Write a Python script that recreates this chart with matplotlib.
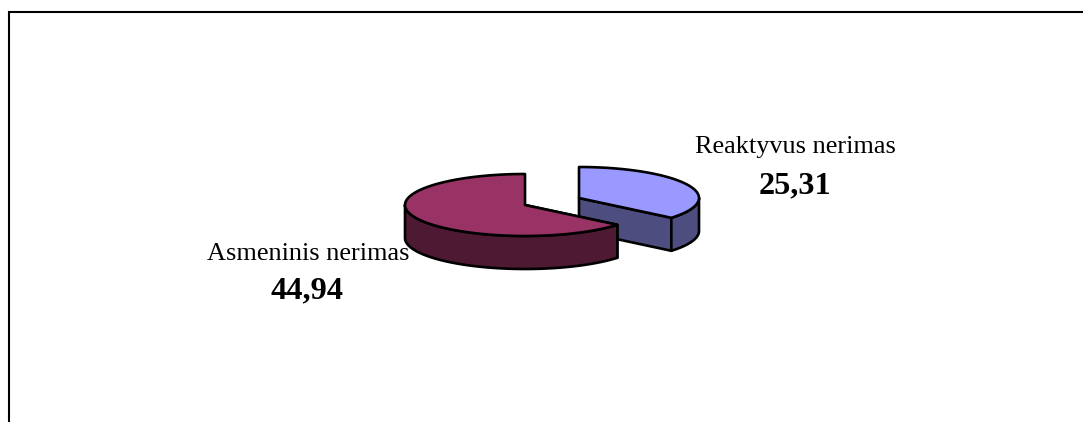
import numpy as np
import matplotlib
matplotlib.use("Agg")
import matplotlib.pyplot as plt
from matplotlib.patches import Polygon

categories = ["Reaktyvus nerimas", "Asmeninis nerimas"]
values = [25.31, 44.94]
value_labels = ["25,31", "44,94"]

top_colors = ["#9999FF", "#993366"]
side_colors = ["#4D4D80", "#4D1933"]

W, H = 1083, 422
RX, RY, DEPTH = 120, 31, 33
centers = [(579, 198), (525, 205)]
LW = 1.9

fig = plt.figure(figsize=(W / 100, H / 100), dpi=100)
ax = fig.add_axes([0, 0, 1, 1])
ax.set_xlim(0, W)
ax.set_ylim(H, 0)
ax.axis("off")

# Slice angles run clockwise from twelve o'clock.
angles = np.cumsum([0] + values) / sum(values) * 2 * np.pi


def rim(cx, cy, a, b, dy=0):
    t = np.linspace(a, b, 300)
    return np.column_stack([cx + RX * np.sin(t), cy - RY * np.cos(t) + dy])


def patch(points, color, z):
    ax.add_patch(Polygon(points, closed=True, facecolor=color, edgecolor="black",
                         linewidth=LW, joinstyle="round", zorder=z))


def visible_sides(a, b):
    # The wall shows only where the rim lies on the front half of the ellipse.
    lo, hi = max(a, np.pi / 2), min(b, 3 * np.pi / 2)
    return (lo, hi) if lo < hi else None


for i, (a, b) in enumerate(zip(angles[:-1], angles[1:])):
    cx, cy = centers[i]
    z = 2 + i * 5

    # Flat cut faces first, then the curved wall, then the top surface.
    for edge in (a, b):
        if np.sin(edge) > 0 and np.cos(edge) < 0:
            p = rim(cx, cy, edge, edge)[0]
            patch([(cx, cy), p, p + (0, DEPTH), (cx, cy + DEPTH)], side_colors[i], z)

    span = visible_sides(a, b)
    if span:
        upper = rim(cx, cy, *span)
        lower = rim(cx, cy, *span, dy=DEPTH)[::-1]
        patch(np.vstack([upper, lower]), side_colors[i], z + 1)

    patch(np.vstack([[(cx, cy)], rim(cx, cy, a, b)]), top_colors[i], z + 2)

serif = "Liberation Serif"
label_pos = [(795, 153), (308, 260)]
value_pos = [(795, 193), (307, 298)]
for name, val, lp, vp in zip(categories, value_labels, label_pos, value_pos):
    ax.text(*lp, name, family=serif, fontsize=18.9, ha="center", va="baseline",
            zorder=1, color="black")
    ax.text(*vp, val, family=serif, fontsize=23.2, fontweight="bold", ha="center",
            va="baseline", zorder=20, color="black")

# Chart frame, open along the lower and right edges.
ax.plot([9, 9, W], [H, 12, 12], color="black", lw=1.5, solid_joinstyle="miter", zorder=0)

fig.savefig("out.png", dpi=100, facecolor="white")
